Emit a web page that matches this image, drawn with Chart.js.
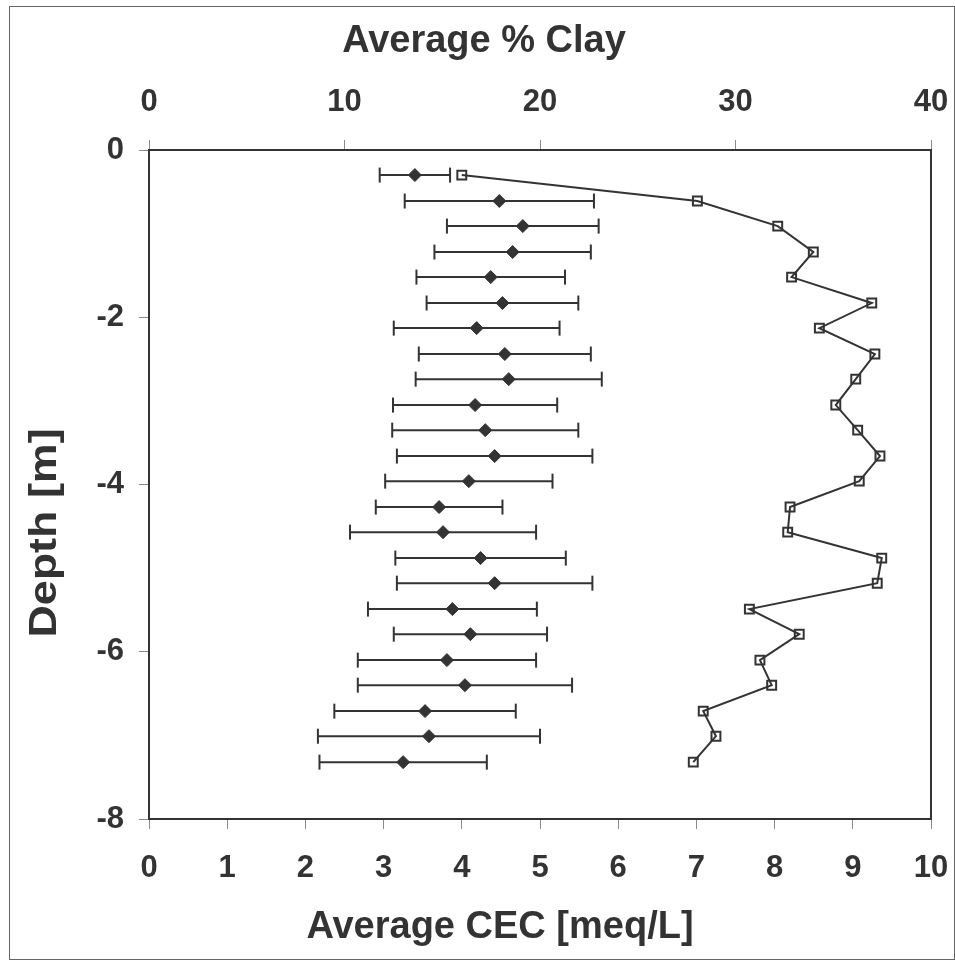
<!DOCTYPE html>
<html>
<head>
<meta charset="utf-8">
<title>CEC and clay by depth</title>
<script src="https://cdn.jsdelivr.net/npm/chart.js@4"></script>
<style>
  html, body { margin: 0; padding: 0; background: #fff; }
  canvas { display: block; }
</style>
</head>
<body>
<canvas id="depthChart" width="955" height="960"></canvas>
<script>
/* --- Dati --- */
const depth = [-0.30, -0.61, -0.91, -1.22, -1.52, -1.83, -2.13, -2.44, -2.74, -3.05, -3.35, -3.66,
               -3.96, -4.27, -4.57, -4.88, -5.18, -5.49, -5.79, -6.10, -6.40, -6.71, -7.01, -7.32];
const cecMean = [3.40, 4.48, 4.78, 4.65, 4.37, 4.52, 4.19, 4.55, 4.60, 4.17, 4.30, 4.42,
                 4.09, 3.71, 3.76, 4.24, 4.42, 3.88, 4.11, 3.81, 4.04, 3.53, 3.58, 3.25];
const cecErr = [0.45, 1.21, 0.97, 1.00, 0.95, 0.97, 1.06, 1.10, 1.19, 1.05, 1.19, 1.25,
                1.07, 0.81, 1.19, 1.09, 1.25, 1.08, 0.98, 1.14, 1.37, 1.16, 1.42, 1.07];
const clayPct = [16.0, 28.05, 32.16, 33.98, 32.87, 36.97, 34.29, 37.13, 36.15, 35.13, 36.25, 37.39,
                 36.33, 32.79, 32.67, 37.48, 37.25, 30.71, 33.26, 31.25, 31.85, 28.35, 29.00, 27.84];

const titleClay = 'Average % Clay';
const titleCec = 'Average CEC [meq/L]';
const titleDepth = 'Depth [m]';

const INK = '#333333';
const TICK = '#8a8a8a';
const FONT = '"Liberation Sans", Arial, Helvetica, sans-serif';

/* --- Cornice esterna e titoli degli assi --- */
const frameAndTitles = {
    id: 'frameAndTitles',
    beforeDraw(chart) {
        const ctx = chart.ctx;
        ctx.save();
        ctx.fillStyle = '#ffffff';
        ctx.fillRect(0, 0, chart.width, chart.height);
        ctx.strokeStyle = '#666666';
        ctx.lineWidth = 1;
        ctx.strokeRect(9.5, 6.5, 945, 953);
        ctx.restore();
    },
    afterDraw(chart) {
        const ctx = chart.ctx;
        ctx.save();
        ctx.fillStyle = INK;
        ctx.font = `bold 38px ${FONT}`;
        ctx.textAlign = 'center';
        ctx.textBaseline = 'alphabetic';
        ctx.fillText(titleClay, 484, 52);
        ctx.fillText(titleCec, 500, 938);
        // titolo verticale, un po' allungato lungo il testo
        ctx.translate(56, 533);
        ctx.rotate(-Math.PI / 2);
        ctx.scale(1.18, 1);
        ctx.fillText(titleDepth, 0, 0);
        ctx.restore();
    }
};

function axisStyle(extra) {
    return Object.assign({
        type: 'linear',
        grid: { drawOnChartArea: false, drawTicks: true, tickLength: 10, color: TICK, tickColor: TICK, lineWidth: 1 },
        border: { display: true, color: INK, width: 2 },
        ticks: { color: INK, font: { family: FONT, size: 31, weight: 'bold' } }
    }, extra);
}

// le etichette agli estremi non devono restringere l'area del grafico
function fixHeight(h) {
    return (s) => { s.height = h; s.paddingLeft = 0; s.paddingRight = 0; };
}

/* --- Barre d'errore: una serie per profondità, estremi con tacche verticali --- */
const errorBarSets = cecMean.map((m, i) => ({
    data: [{ x: m - cecErr[i], y: depth[i] }, { x: m + cecErr[i], y: depth[i] }],
    xAxisID: 'x',
    yAxisID: 'y',
    showLine: true,
    borderColor: INK,
    borderWidth: 2,
    pointStyle: 'line',
    pointRotation: 90,
    pointRadius: 7.5,
    pointBorderColor: INK,
    pointBorderWidth: 2
}));

const ctx = document.getElementById('depthChart').getContext('2d');
new Chart(ctx, {
    type: 'scatter',
    data: {
        datasets: [
            {
                label: 'CEC',
                data: cecMean.map((m, i) => ({ x: m, y: depth[i] })),
                xAxisID: 'x',
                yAxisID: 'y',
                pointStyle: 'rectRot',
                pointRadius: 6.5,
                pointBackgroundColor: INK,
                pointBorderColor: INK,
                pointBorderWidth: 1
            },
            {
                label: 'Clay',
                data: clayPct.map((c, i) => ({ x: c, y: depth[i] })),
                xAxisID: 'x2',
                yAxisID: 'y',
                showLine: true,
                borderColor: INK,
                borderWidth: 2,
                pointStyle: 'rect',
                pointRadius: 6.3,
                pointBackgroundColor: 'transparent',
                pointBorderColor: INK,
                pointBorderWidth: 2
            },
            ...errorBarSets
        ]
    },
    options: {
        responsive: false,
        animation: false,
        devicePixelRatio: 1,
        layout: { padding: 0 },
        plugins: { legend: { display: false }, tooltip: { enabled: false } },
        scales: {
            x: axisStyle({
                position: 'bottom', min: 0, max: 10,
                ticks: { color: INK, padding: 21, stepSize: 1, font: { family: FONT, size: 31, weight: 'bold' } },
                afterFit: fixHeight(141)
            }),
            x2: axisStyle({
                position: 'top', min: 0, max: 40,
                ticks: { color: INK, padding: 19, stepSize: 10, font: { family: FONT, size: 31, weight: 'bold' } },
                afterFit: fixHeight(150)
            }),
            y: axisStyle({
                position: 'left', min: -8, max: 0,
                ticks: { color: INK, padding: 15, stepSize: 2, font: { family: FONT, size: 31, weight: 'bold' } },
                afterFit: (s) => { s.width = 149; s.paddingTop = 0; s.paddingBottom = 0; }
            }),
            yR: {
                type: 'linear', position: 'right', min: -8, max: 0,
                grid: { display: false },
                ticks: { display: false },
                border: { display: true, color: INK, width: 2 },
                afterFit: (s) => { s.width = 24; }
            }
        }
    },
    plugins: [frameAndTitles]
});
</script>
</body>
</html>
